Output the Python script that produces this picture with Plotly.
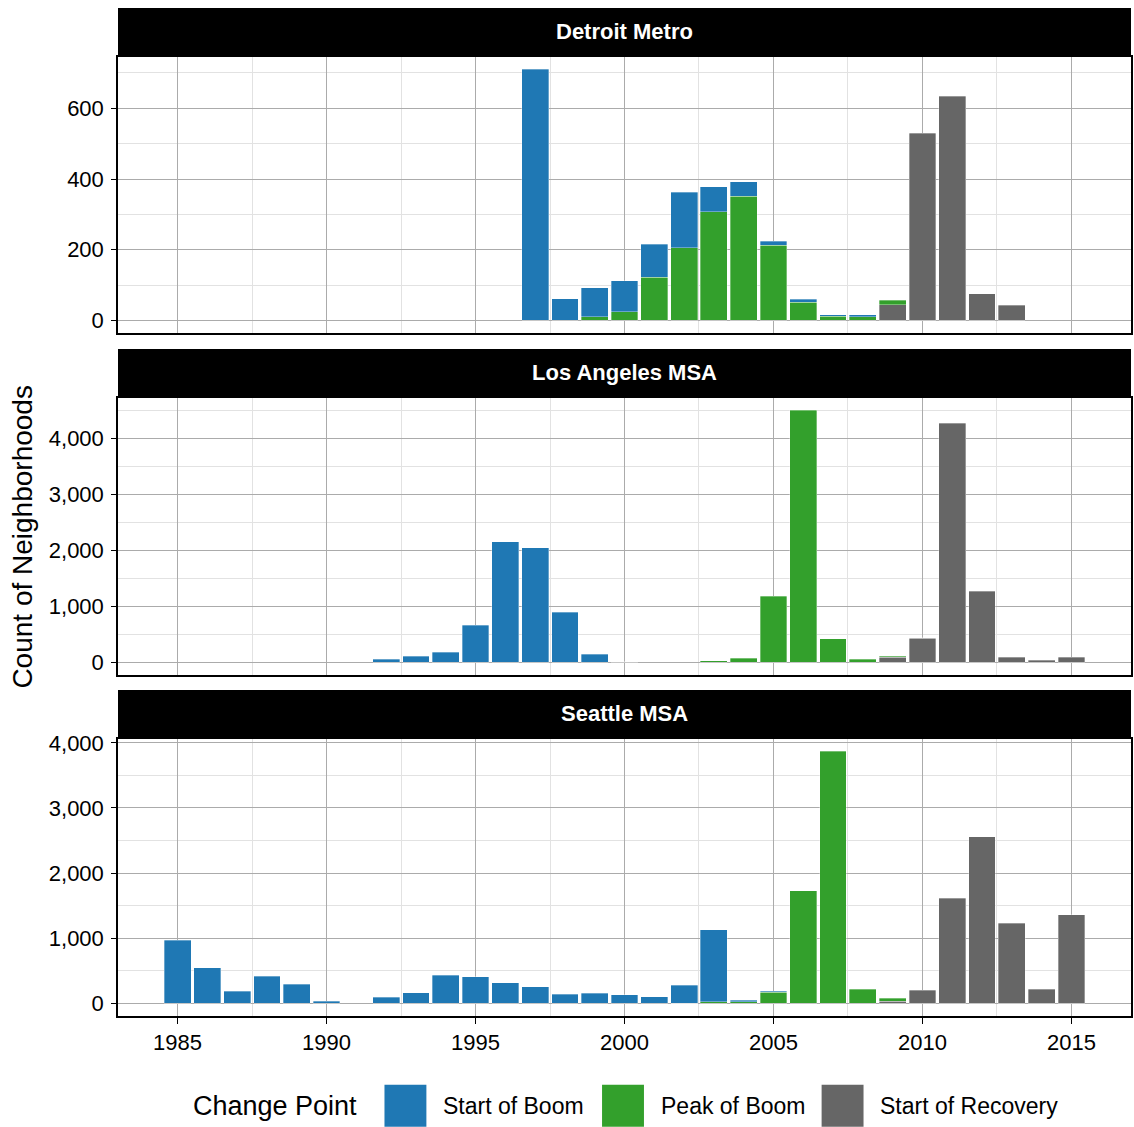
import plotly.graph_objects as go
from plotly.subplots import make_subplots

# ---- data -------------------------------------------------------------
years = list(range(1985, 2016))

series_names = ["Start of Boom", "Peak of Boom", "Start of Recovery"]
series_colors = ["#1f78b4", "#33a02c", "#666666"]

metros = ["Detroit Metro", "Los Angeles MSA", "Seattle MSA"]

#                 1985-89            1990-94               1995-99                   2000-04                    2005-09                  2010-14                   2015
detroit_start = [0, 0, 0, 0, 0,     0, 0, 0, 0, 0,        0, 0, 710, 62, 83,        87, 93, 157, 70, 41,       11, 9, 4, 5, 0,          0, 0, 0, 0, 0,            0]
detroit_peak = [0, 0, 0, 0, 0,      0, 0, 0, 0, 0,        0, 0, 0, 0, 10,           25, 122, 206, 308, 351,    213, 51, 12, 11, 13,     0, 0, 0, 0, 0,            0]
detroit_recovery = [0, 0, 0, 0, 0,  0, 0, 0, 0, 0,        0, 0, 0, 0, 0,            0, 0, 0, 0, 0,             0, 0, 0, 0, 44,          530, 634, 76, 43, 0,      0]

la_start = [0, 0, 0, 0, 0,          0, 0, 59, 106, 183,   661, 2153, 2047, 891, 147, 12, 0, 0, 0, 0,           0, 0, 0, 0, 0,           0, 0, 0, 0, 0,            0]
la_peak = [0, 0, 0, 0, 0,           0, 0, 0, 0, 0,        0, 0, 0, 0, 0,            0, 0, 0, 30, 71,           1180, 4496, 419, 59, 10, 15, 0, 0, 0, 0,           0]
la_recovery = [0, 0, 0, 0, 0,       0, 0, 0, 0, 0,        0, 0, 0, 0, 0,            0, 0, 0, 0, 0,             0, 0, 0, 0, 96,          427, 4265, 1268, 88, 41,  94]

seattle_start = [969, 548, 188, 416, 294, 30, 0, 91, 162, 431, 406, 315, 259, 142, 152, 132, 102, 274, 1102, 25, 8, 0, 0, 0, 0, 0, 0, 0, 0, 0, 0]
seattle_peak = [0, 0, 0, 0, 0,      0, 0, 0, 0, 0,        0, 0, 0, 0, 0,            0, 0, 5, 25, 26,           175, 1731, 3868, 218, 40, 0, 0, 0, 0, 0,           0]
seattle_recovery = [0, 0, 0, 0, 0,  0, 0, 0, 0, 0,        0, 0, 0, 0, 0,            0, 0, 0, 0, 0,             0, 0, 0, 0, 36,          203, 1614, 2558, 1234, 218, 1360]

panel_series = [
    [detroit_start, detroit_peak, detroit_recovery],
    [la_start, la_peak, la_recovery],
    [seattle_start, seattle_peak, seattle_recovery],
]
y_dticks = [200, 1000, 1000]

# ---- layout geometry (pixels) -----------------------------------------
W, H = 1134, 1127
L, R, T, B = 118, 1133, 6, 1016
panels_px = [(54, 331), (396, 674), (738, 1016)]
strips_px = [(5, 53), (347, 395), (689, 737)]


def px2x(x):
    return (x - L) / (R - L)


def px2y(y):
    return (B - y) / (B - T)


FONT = "Liberation Sans, Arial, Helvetica, sans-serif"
MAJOR_GRID = "#ababab"
MINOR_GRID = "#e2e2e2"

fig = make_subplots(rows=3, cols=1, shared_xaxes=True)

for row, series in enumerate(panel_series, start=1):
    # stack order: recovery at the bottom, start of boom on top
    for idx in (2, 1, 0):
        vals = [v if v else None for v in series[idx]]
        fig.add_trace(
            go.Bar(
                x=years,
                y=vals,
                width=0.9,
                name=series_names[idx],
                marker=dict(color=series_colors[idx],
                            line=dict(color="rgba(255,255,255,0.55)", width=0.6)),
                showlegend=False,
                hoverinfo="x+y+name",
            ),
            row=row, col=1,
        )

fig.update_layout(
    width=W, height=H,
    margin=dict(l=L, r=W - R, t=T, b=H - B),
    barmode="stack",
    plot_bgcolor="white",
    paper_bgcolor="white",
    font=dict(family=FONT, color="black"),
    showlegend=False,
)

for row in range(1, 4):
    sfx = "" if row == 1 else str(row)
    top_px, bot_px = panels_px[row - 1]
    series = panel_series[row - 1]
    totals = [a + b + c for a, b, c in zip(*series)]
    ymax = max(totals)
    fig.layout["yaxis" + sfx].update(
        domain=[px2y(bot_px), px2y(top_px)],
        range=[-0.05 * ymax, 1.05 * ymax],
        dtick=y_dticks[row - 1], tick0=0,
        tickformat=",d",
        ticks="outside", ticklen=5, tickwidth=1, tickcolor="black",
        tickfont=dict(size=22, color="black", family=FONT),
        ticklabelstandoff=3,
        showgrid=True, gridcolor=MAJOR_GRID, gridwidth=1,
        minor=dict(dtick=y_dticks[row - 1] / 2, showgrid=True,
                   gridcolor=MINOR_GRID, gridwidth=1, ticks=""),
        zeroline=False,
        showline=True, mirror=True, linecolor="black", linewidth=1.5,
    )
    fig.layout["xaxis" + sfx].update(
        range=[1983, 2017],
        dtick=5, tick0=1985,
        showgrid=True, gridcolor=MAJOR_GRID, gridwidth=1,
        minor=dict(dtick=2.5, showgrid=True, gridcolor=MINOR_GRID,
                   gridwidth=1, ticks=""),
        zeroline=False,
        showline=True, mirror=True, linecolor="black", linewidth=1.5,
        showticklabels=(row == 3),
        ticks="outside" if row == 3 else "",
        ticklen=6, tickwidth=1, tickcolor="black",
        tickfont=dict(size=22, color="black", family=FONT),
        ticklabelstandoff=0,
    )

shapes = []
annotations = []

# facet strips
for (s_top, s_bot), metro in zip(strips_px, metros):
    shapes.append(dict(type="rect", xref="paper", yref="paper",
                       x0=0, x1=1, y0=px2y(s_bot), y1=px2y(s_top),
                       fillcolor="black", line=dict(width=0), layer="above"))
    annotations.append(dict(xref="paper", yref="paper",
                            x=0.5, y=px2y((s_top + s_bot) / 2),
                            text="<b>" + metro + "</b>", showarrow=False,
                            font=dict(size=22, color="white", family=FONT),
                            xanchor="center", yanchor="middle"))

# y-axis title
annotations.append(dict(xref="paper", yref="paper",
                        x=px2x(22), y=px2y(535),
                        text="Count of Neighborhoods", textangle=-90,
                        showarrow=False, xanchor="center", yanchor="middle",
                        font=dict(size=28, color="black", family=FONT)))

# legend
legend_cy = 1106
annotations.append(dict(xref="paper", yref="paper",
                        x=px2x(191), y=px2y(legend_cy),
                        text="Change Point", showarrow=False,
                        xanchor="left", yanchor="middle",
                        font=dict(size=27, color="black", family=FONT)))
key_lefts = [385, 603, 823]
for name, color, kx in zip(series_names, series_colors, key_lefts):
    shapes.append(dict(type="rect", xref="paper", yref="paper",
                       x0=px2x(kx), x1=px2x(kx + 42),
                       y0=px2y(1127), y1=px2y(1085),
                       fillcolor=color, line=dict(width=0)))
    annotations.append(dict(xref="paper", yref="paper",
                            x=px2x(kx + 57), y=px2y(legend_cy),
                            text=name, showarrow=False,
                            xanchor="left", yanchor="middle",
                            font=dict(size=23, color="black", family=FONT)))

fig.update_layout(shapes=shapes, annotations=annotations)

fig.write_html("out.html")
